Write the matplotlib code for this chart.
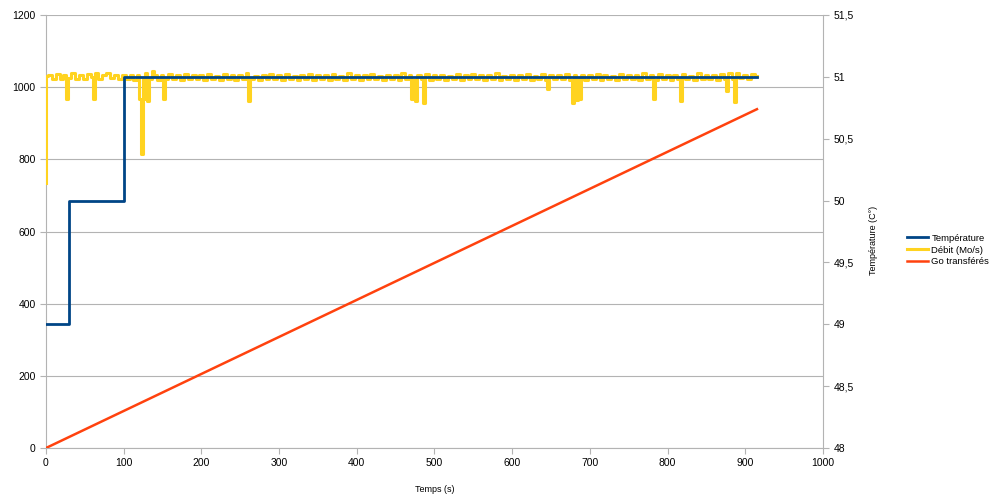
import numpy as np
import matplotlib
matplotlib.use("Agg")
import matplotlib.pyplot as plt
from matplotlib.ticker import FuncFormatter

plt.rcParams["font.family"] = ["Liberation Sans", "DejaVu Sans"]
plt.rcParams["font.size"] = 7.5

# Température (°C), step curve on the right axis
temp_t = [0, 30, 101, 915]
temp_v = [49, 50, 51, 51]

# Débit (Mo/s), sampled every 5 s
debit_base = [
    734, 1034, 1024, 1037, 1022, 1035, 1026, 1038, 1024, 1034, 1022, 1036, 1027, 1039, 1024, 1035, 1040, 1025, 1034, 1023,
    1035, 1022, 1034, 1021, 1033, 1024, 1038, 1022, 1033, 1020, 1034, 1023, 1037, 1022, 1033, 1021, 1036, 1023, 1034, 1022,
    1033, 1021, 1036, 1023, 1032, 1020, 1037, 1022, 1033, 1021, 1034, 1023, 1038, 1022, 1032, 1020, 1034, 1022, 1036, 1023,
    1033, 1021, 1036, 1022, 1032, 1020, 1033, 1023, 1037, 1021, 1034, 1022, 1033, 1020, 1036, 1023, 1032, 1021, 1040, 1022,
    1034, 1021, 1033, 1022, 1036, 1023, 1032, 1020, 1034, 1022, 1033, 1021, 1038, 1023, 1034, 1020, 1033, 1022, 1036, 1021,
    1033, 1022, 1034, 1020, 1032, 1023, 1036, 1021, 1033, 1022, 1037, 1023, 1034, 1020, 1033, 1022, 1038, 1021, 1032, 1023,
    1034, 1021, 1033, 1022, 1036, 1020, 1032, 1023, 1037, 1021, 1034, 1022, 1033, 1023, 1036, 1020, 1033, 1022, 1034, 1021,
    1033, 1022, 1036, 1020, 1034, 1023, 1032, 1021, 1037, 1022, 1033, 1023, 1034, 1021, 1039, 1022, 1033, 1020, 1036, 1023,
    1034, 1021, 1033, 1022, 1036, 1023, 1032, 1021, 1040, 1022, 1034, 1023, 1033, 1020, 1036, 1022, 1038, 1023, 1039, 1026,
    1034, 1023, 1037, 1030,
]
debit_base_t = [5 * i for i in range(len(debit_base))]
# extra samples: start, dips and spikes
debit_extra_t = [1, 25.7, 60, 120, 121, 123.5, 125, 130, 138, 152, 261, 470, 476, 486.5,
                 645, 678, 683.5, 688, 783, 817, 875, 886]
debit_extra_v = [1031, 967, 967, 967, 967, 815, 967, 962, 1045, 967, 962, 967, 962, 957,
                 996, 955, 964, 966, 966, 962, 990, 960]

# Go transférés (left axis)
go_t = [0, 915]
go_v = [0, 939]

dt = np.array(debit_base_t + debit_extra_t, dtype=float)
dv = np.array(debit_base + debit_extra_v, dtype=float)
order = np.argsort(dt, kind="stable")
dt, dv = dt[order], dv[order]

BLUE = "#004586"; YELLOW = "#ffd320"; RED = "#ff420e"; GRID = "#b3b3b3"

fig = plt.figure(figsize=(9.95, 5.03), dpi=100)
ax = fig.add_axes([46 / 995, 1 - 448 / 503, (823 - 46) / 995, (448 - 15) / 503])
ax2 = ax.twinx()

l2, = ax.plot(dt, dv, color=YELLOW, lw=2.2, drawstyle="steps-mid", zorder=3)
l3, = ax.plot(go_t, go_v, color=RED, lw=1.8, zorder=3)
l1, = ax2.plot(temp_t, temp_v, color=BLUE, lw=2.0, drawstyle="steps-post", zorder=4)

ax.set_xlim(0, 1000)
ax.set_ylim(0, 1200)
ax.set_xticks(range(0, 1001, 100))
ax.set_yticks(range(0, 1201, 200))
ax2.set_ylim(48, 51.5)
ax2.set_yticks(np.arange(48, 51.51, 0.5))
ax2.yaxis.set_major_formatter(FuncFormatter(lambda v, p: f"{v:g}".replace(".", ",")))

ax.yaxis.grid(True, color=GRID, lw=0.8)
ax.set_axisbelow(True)
for a in (ax, ax2):
    for s in a.spines.values():
        s.set_color(GRID)
    a.spines["top"].set_visible(False)
    a.tick_params(colors=GRID, labelcolor="black", length=4, width=0.8, labelsize=7.5)
ax2.spines["left"].set_visible(False)
ax2.spines["bottom"].set_visible(False)
ax.spines["right"].set_visible(False)

ax.set_xlabel("Temps (s)", fontsize=6.5, labelpad=12)
fig.text(874 / 995, 1 - 240 / 503, "Température (C°)", rotation=90, fontsize=6.5,
         ha="center", va="center")

fig.legend([l1, l2, l3], ["Température", "Débit (Mo/s)", "Go transférés"],
           loc="center left", bbox_to_anchor=(903 / 995, 1 - 250 / 503), frameon=False,
           fontsize=6.8, handlelength=2.3, handletextpad=0.3, labelspacing=0.3,
           borderaxespad=0)

fig.savefig("out.png", dpi=100)
